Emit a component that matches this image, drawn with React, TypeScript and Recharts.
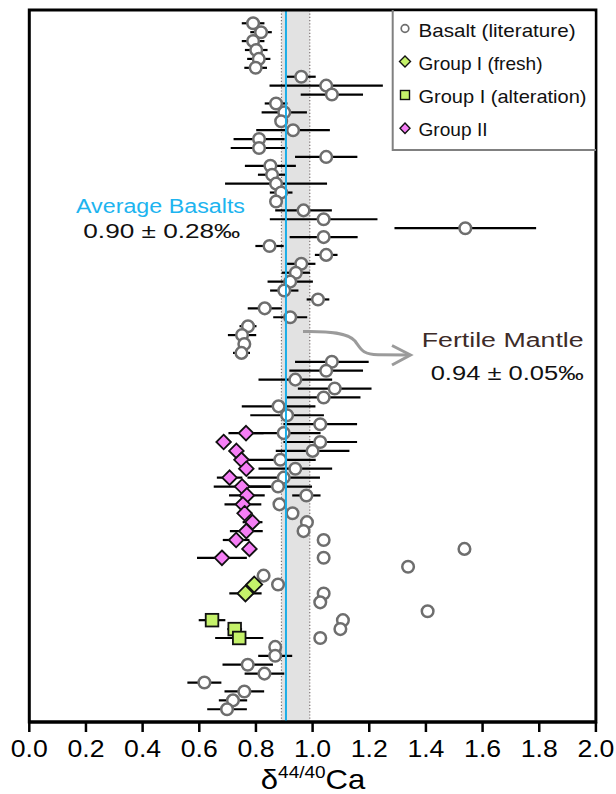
import React from 'react';
import { ComposedChart, Scatter, XAxis, YAxis, ErrorBar, ReferenceArea, ReferenceLine } from 'recharts';

// δ44/40Ca of basalts (literature), one sample per row (row 1 = top)
const basaltValues = [
  0.790, 0.818, 0.790, 0.801, 0.810, 0.799, 0.960, 1.048, 1.068, 0.871,
  0.900, 0.889, 0.931, 0.811, 0.811, 1.048, 0.851, 0.857, 0.871, 0.889,
  0.871, 0.968, 1.039, 1.539, 1.039, 0.848, 1.048, 0.960, 0.941, 0.921,
  0.900, 1.019, 0.831, 0.921, 0.772, 0.751, 0.759, 0.749, 1.068, 1.048,
  0.939, 1.078, 1.039, 0.880, 0.910, 1.027, 0.898, 1.027, 1.000, 0.886,
  0.939, 0.898, 0.878, 0.978, 0.883, 0.929, 0.980, 0.968, 1.039, 1.536,
  1.039, 1.337, 0.827, 0.878, 1.039, 1.027, 1.406, 1.107, 1.098, 1.027,
  0.868, 0.868, 0.771, 0.830, 0.618, 0.759, 0.719, 0.698,
];
const basaltErrors = [
  0.040, 0.038, 0.040, 0.040, 0.041, 0.040, 0.051, 0.200, 0.110, 0.040,
  0.080, 0, 0.130, 0.090, 0.100, 0.110, 0.090, 0.050, 0.180, 0.040,
  0, 0.100, 0.190, 0.250, 0.120, 0.050, 0.040, 0.050, 0.050, 0.080,
  0.050, 0.040, 0.060, 0.060, 0.030, 0.050, 0, 0.030, 0.130, 0.130,
  0.130, 0.130, 0.130, 0.130, 0.130, 0.130, 0.130, 0.130, 0.130, 0.125,
  0.130, 0.128, 0.120, 0.050, 0, 0, 0, 0, 0, 0,
  0, 0, 0, 0, 0, 0, 0, 0, 0, 0,
  0, 0.060, 0.089, 0.070, 0.060, 0.070, 0.050, 0.070,
];

const group2Rows = [47, 48, 49, 50, 51, 52, 53, 54, 55, 56, 57, 58, 59, 60, 61];
const group2Values = [0.765, 0.686, 0.731, 0.749, 0.766, 0.707, 0.751, 0.768, 0.754, 0.760, 0.788, 0.766, 0.730, 0.777, 0.680];
const group2Errors = [0.062, 0, 0, 0, 0, 0.045, 0.100, 0.063, 0.065, 0, 0.035, 0.058, 0.047, 0, 0.088];

const freshRows = [64, 65];
const freshValues = [0.794, 0.763];
const freshErrors = [0, 0.057];

const alterRows = [68, 69, 70];
const alterValues = [0.645, 0.725, 0.741];
const alterErrors = [0.047, 0.026, 0.085];

const xTicks = [0, 0.2, 0.4, 0.6, 0.8, 1.0, 1.2, 1.4, 1.6, 1.8, 2.0];
const avgBasaltLine = 0.906;
const mantleLow = 0.89;
const mantleHigh = 0.99;
const yMin = -0.49;
const yMax = 79.43;

const legendItems = ['Basalt (literature)', 'Group I (fresh)', 'Group I (alteration)', 'Group II'];

const basaltData = basaltValues.map((x, i) => ({ x, y: i + 1, err: basaltErrors[i] }));
const group2Data = group2Values.map((x, i) => ({ x, y: group2Rows[i], err: group2Errors[i] }));
const freshData = freshValues.map((x, i) => ({ x, y: freshRows[i], err: freshErrors[i] }));
const alterData = alterValues.map((x, i) => ({ x, y: alterRows[i], err: alterErrors[i] }));

const FONT = "'Liberation Sans', Arial, Helvetica, sans-serif";
const MAGENTA = '#f57ef5';
const GREEN = '#c5f26a';

const CircleShape = (p: any) => (
  <circle cx={p.cx} cy={p.cy} r={5.8} fill="#fff" stroke="#6e6e6e" strokeWidth={2.5} />
);
const makeDiamond = (fill: string, h: number) => (p: any) => (
  <polygon
    points={`${p.cx},${p.cy - h} ${p.cx + h},${p.cy} ${p.cx},${p.cy + h} ${p.cx - h},${p.cy}`}
    fill={fill}
    stroke="#111"
    strokeWidth={1.8}
  />
);
const SquareShape = (p: any) => (
  <rect x={p.cx - 6.3} y={p.cy - 6.3} width={12.6} height={12.6} fill={GREEN} stroke="#111" strokeWidth={1.8} />
);

const Tick = (props: any) => (
  <text
    x={props.x}
    y={props.y}
    dy={25}
    textAnchor="middle"
    fontFamily={FONT}
    fontSize={23}
    fill="#000"
    textLength={37}
    lengthAdjust="spacingAndGlyphs"
  >
    {Number(props.payload.value).toFixed(1)}
  </text>
);

export default function App() {
  return (
    <div style={{ position: 'absolute', left: 0, top: 0, width: 616, height: 794, background: '#fff' }}>
      <ComposedChart width={616} height={794} margin={{ top: 10, right: 20.1, bottom: 0, left: 29.3 }}>
        <XAxis
          type="number"
          dataKey="x"
          domain={[0, 2]}
          ticks={xTicks}
          allowDataOverflow
          height={72}
          axisLine={{ stroke: '#000', strokeWidth: 3 }}
          tickLine={{ stroke: '#000', strokeWidth: 2.5 }}
          tickSize={10}
          tickMargin={0}
          tick={<Tick />}
        />
        <YAxis type="number" dataKey="y" domain={[yMin, yMax]} reversed hide allowDataOverflow />
        <ReferenceArea x1={mantleLow} x2={mantleHigh} y1={yMin} y2={yMax} fill="#e2e2e2" fillOpacity={1} stroke="none" ifOverflow="visible" />
        <ReferenceLine x={mantleLow} stroke="#7a7070" strokeWidth={1.2} strokeDasharray="1.2 2" />
        <ReferenceLine x={mantleHigh} stroke="#7a7070" strokeWidth={1.2} strokeDasharray="1.2 2" />
        <Scatter name="Basalt (literature)" data={basaltData} shape={CircleShape} isAnimationActive={false}>
          <ErrorBar dataKey="err" direction="x" width={0} stroke="#000" strokeWidth={2.2} />
        </Scatter>
        <Scatter name="Group II" data={group2Data} shape={makeDiamond(MAGENTA, 7.3)} isAnimationActive={false}>
          <ErrorBar dataKey="err" direction="x" width={0} stroke="#000" strokeWidth={2.2} />
        </Scatter>
        <Scatter name="Group I (fresh)" data={freshData} shape={makeDiamond(GREEN, 8)} isAnimationActive={false}>
          <ErrorBar dataKey="err" direction="x" width={0} stroke="#000" strokeWidth={2.2} />
        </Scatter>
        <Scatter name="Group I (alteration)" data={alterData} shape={SquareShape} isAnimationActive={false}>
          <ErrorBar dataKey="err" direction="x" width={0} stroke="#000" strokeWidth={2.2} />
        </Scatter>
        <ReferenceLine x={avgBasaltLine} stroke="#1aaee8" strokeWidth={2} zIndex={700} />
        <ReferenceArea x1={0} x2={2} y1={yMin} y2={yMax} fill="none" stroke="#000" strokeWidth={3} ifOverflow="visible" zIndex={800} />
      </ComposedChart>
      <svg
        width={616}
        height={794}
        style={{ position: 'absolute', left: 0, top: 0, pointerEvents: 'none' }}
        fontFamily={FONT}
      >
        {/* legend */}
        <rect x={393.7} y={11.5} width={201} height={138.5} fill="#fff" />
        <path d="M392.7,10 L392.7,150 L596,150" fill="none" stroke="#808080" strokeWidth={2} />
        <circle cx={405} cy={28.5} r={3.8} fill="#fff" stroke="#6e6e6e" strokeWidth={1.7} />
        <polygon points="405,56 410.5,61.5 405,67 399.5,61.5" fill={GREEN} stroke="#111" strokeWidth={1.4} />
        <rect x={400.5} y={90.5} width={9} height={9} fill={GREEN} stroke="#111" strokeWidth={1.4} />
        <polygon points="405,123 410,128.3 405,133.6 400,128.3" fill={MAGENTA} stroke="#111" strokeWidth={1.4} />
        <text x={418.5} y={37.3} fontSize={18.5} fill="#111" textLength={157} lengthAdjust="spacingAndGlyphs">{legendItems[0]}</text>
        <text x={418.5} y={69.5} fontSize={18.5} fill="#111" textLength={124} lengthAdjust="spacingAndGlyphs">{legendItems[1]}</text>
        <text x={418.5} y={102.8} fontSize={18.5} fill="#111" textLength={168} lengthAdjust="spacingAndGlyphs">{legendItems[2]}</text>
        <text x={418.5} y={136} fontSize={18.5} fill="#111" textLength={69} lengthAdjust="spacingAndGlyphs">{legendItems[3]}</text>

        {/* annotations */}
        <text x={76} y={212.7} fontSize={20} fill="#1db4ef" textLength={169} lengthAdjust="spacingAndGlyphs">Average Basalts</text>
        <text x={83.3} y={238.3} fontSize={20} fill="#111" textLength={157} lengthAdjust="spacingAndGlyphs">0.90 ± 0.28‰</text>
        <text x={421.7} y={346.5} fontSize={20} fill="#3d2b28" textLength={162} lengthAdjust="spacingAndGlyphs">Fertile Mantle</text>
        <text x={430.7} y={379.5} fontSize={20.5} fill="#111" textLength={153} lengthAdjust="spacingAndGlyphs">0.94 ± 0.05‰</text>
        <path d="M303,331.5 C330,331 348,333 355,341 C361,349 362,354.5 378,354.8 L409,355" fill="none" stroke="#9b9b9b" strokeWidth={3} />
        <path d="M392,345.5 L410.5,355 L392,365" fill="none" stroke="#9b9b9b" strokeWidth={3} />

        {/* x axis title */}
        <text transform="translate(313,789) scale(1.15,1)" textAnchor="middle" fontSize={27} fill="#000">
          δ<tspan fontSize={16.5} dy={-11}>44/40</tspan><tspan dy={11}>Ca</tspan>
        </text>
      </svg>
    </div>
  );
}
